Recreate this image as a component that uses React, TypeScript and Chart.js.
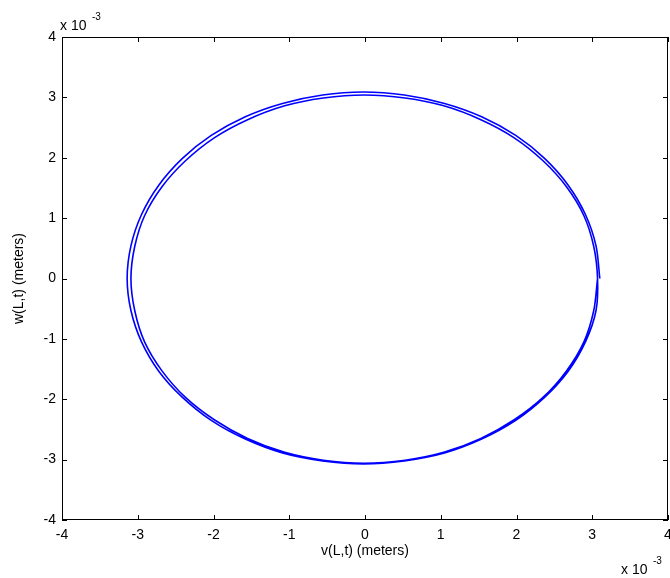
import { useEffect, useRef } from 'react';
import { Chart, registerables } from 'chart.js';

Chart.register(...registerables);

// tick labels (values in units of 1e-3 m)
const xTicks = [-4, -3, -2, -1, 0, 1, 2, 3, 4];
const yTicks = [-4, -3, -2, -1, 0, 1, 2, 3, 4];

// orbit v(L,t) (x 1e-3 m): outer lap then inner lap
const orbitV = [
  3.10, 3.05, 2.91, 2.68, 2.37, 1.99, 1.54, 1.05, 0.52, -0.02,
  -0.56, -1.09, -1.58, -2.03, -2.41, -2.72, -2.95, -3.09, -3.14,
  -3.09, -2.95, -2.72, -2.41, -2.03, -1.58, -1.09, -0.56, -0.02,
  0.52, 1.05, 1.54, 1.99, 2.37, 2.68, 2.91, 3.05,
  3.07, 3.02, 2.89, 2.66, 2.35, 1.97, 1.53, 1.04, 0.53, -0.01,
  -0.55, -1.06, -1.55, -1.99, -2.37, -2.68, -2.91, -3.04, -3.09,
  -3.04, -2.91, -2.68, -2.37, -1.99, -1.55, -1.06, -0.55, -0.01,
  0.53, 1.04, 1.53, 1.97, 2.35, 2.66, 2.89, 3.02, 3.07,
];
// orbit w(L,t) (x 1e-3 m)
const orbitW = [
  0.00, 0.54, 1.06, 1.55, 1.99, 2.37, 2.68, 2.90, 3.04, 3.09,
  3.04, 2.90, 2.68, 2.37, 1.99, 1.55, 1.06, 0.54, 0.00,
  -0.53, -1.05, -1.54, -1.97, -2.35, -2.66, -2.89, -3.02, -3.07,
  -3.02, -2.89, -2.66, -2.35, -1.97, -1.54, -1.05, -0.53,
  0.00, 0.53, 1.04, 1.52, 1.95, 2.33, 2.63, 2.86, 2.99, 3.04,
  2.99, 2.86, 2.63, 2.33, 1.95, 1.52, 1.04, 0.53, 0.00,
  -0.53, -1.05, -1.53, -1.97, -2.34, -2.65, -2.88, -3.01, -3.06,
  -3.01, -2.88, -2.65, -2.34, -1.97, -1.53, -1.05, -0.53, 0.00,
];

const FONT = '"Liberation Sans", Arial, Helvetica, sans-serif';
const FS = 14;

const boxPlugin = {
  id: 'matlabBox',
  afterDraw(chart: any) {
    const { ctx, chartArea: a, scales } = chart;
    const xs = scales.x;
    const ys = scales.y;
    ctx.save();
    ctx.strokeStyle = '#000';
    ctx.lineWidth = 1;
    ctx.strokeRect(a.left + 0.5, a.top + 0.5, a.right - a.left - 1, a.bottom - a.top - 1);
    const tl = 5;
    ctx.beginPath();
    xTicks.forEach((v) => {
      const px = Math.round(xs.getPixelForValue(v)) + 0.5;
      ctx.moveTo(px, a.bottom);
      ctx.lineTo(px, a.bottom - tl);
      ctx.moveTo(px, a.top);
      ctx.lineTo(px, a.top + tl);
    });
    yTicks.forEach((v) => {
      const py = Math.round(ys.getPixelForValue(v)) + 0.5;
      ctx.moveTo(a.left, py);
      ctx.lineTo(a.left + tl, py);
      ctx.moveTo(a.right, py);
      ctx.lineTo(a.right - tl, py);
    });
    ctx.stroke();
    // exponent labels
    ctx.fillStyle = '#000';
    ctx.textBaseline = 'alphabetic';
    ctx.textAlign = 'left';
    ctx.font = `${FS}px ${FONT}`;
    ctx.fillText('x 10', 60, 30);
    ctx.font = `10px ${FONT}`;
    ctx.fillText('-3', 92, 20);
    ctx.font = `${FS}px ${FONT}`;
    ctx.fillText('x 10', 621, 574);
    ctx.font = `10px ${FONT}`;
    ctx.fillText('-3', 653, 564);
    ctx.restore();
  },
};

export default function App() {
  const ref = useRef<HTMLCanvasElement>(null);
  useEffect(() => {
    if (!ref.current) return;
    const points = orbitV.map((v, i) => ({ x: v, y: orbitW[i] }));
    const chart = new Chart(ref.current, {
      type: 'scatter',
      data: {
        datasets: [
          {
            data: points,
            showLine: true,
            borderColor: '#0000ff',
            borderWidth: 1.6,
            pointRadius: 0,
            tension: 0.3,
            fill: false,
          },
        ],
      },
      options: {
        animation: false,
        responsive: false,
        devicePixelRatio: 1,
        layout: { padding: { top: 37, right: 2, left: 0, bottom: 0 } },
        plugins: { legend: { display: false }, tooltip: { enabled: false } },
        scales: {
          x: {
            type: 'linear',
            min: -4,
            max: 4,
            afterBuildTicks: (s: any) => {
              s.ticks = xTicks.map((v) => ({ value: v }));
            },
            afterFit: (s: any) => {
              s.height = 58;
              s.paddingLeft = 0;
              s.paddingRight = 0;
            },
            grid: { display: false, drawTicks: false },
            border: { display: false },
            ticks: {
              padding: 7,
              color: '#000',
              font: { size: FS, family: FONT },
              maxRotation: 0,
              autoSkip: false,
            },
            title: {
              display: true,
              text: 'v(L,t) (meters)',
              color: '#000',
              font: { size: FS, family: FONT },
              padding: { bottom: 18, top: 0 },
            },
          },
          y: {
            type: 'linear',
            min: -4,
            max: 4,
            afterBuildTicks: (s: any) => {
              s.ticks = yTicks.map((v) => ({ value: v }));
            },
            afterFit: (s: any) => {
              s.width = 62;
              s.paddingTop = 0;
              s.paddingBottom = 0;
            },
            grid: { display: false, drawTicks: false },
            border: { display: false },
            ticks: {
              padding: 6,
              color: '#000',
              font: { size: FS, family: FONT },
              autoSkip: false,
            },
            title: {
              display: true,
              text: 'w(L,t) (meters)',
              color: '#000',
              font: { size: FS, family: FONT },
              padding: { top: 11, bottom: 0 },
            },
          },
        },
      },
      plugins: [boxPlugin],
    });
    return () => chart.destroy();
  }, []);
  return (
    <canvas
      ref={ref}
      width={670}
      height={578}
      style={{ position: 'fixed', left: 0, top: 0, width: 670, height: 578, background: '#fff' }}
    />
  );
}
